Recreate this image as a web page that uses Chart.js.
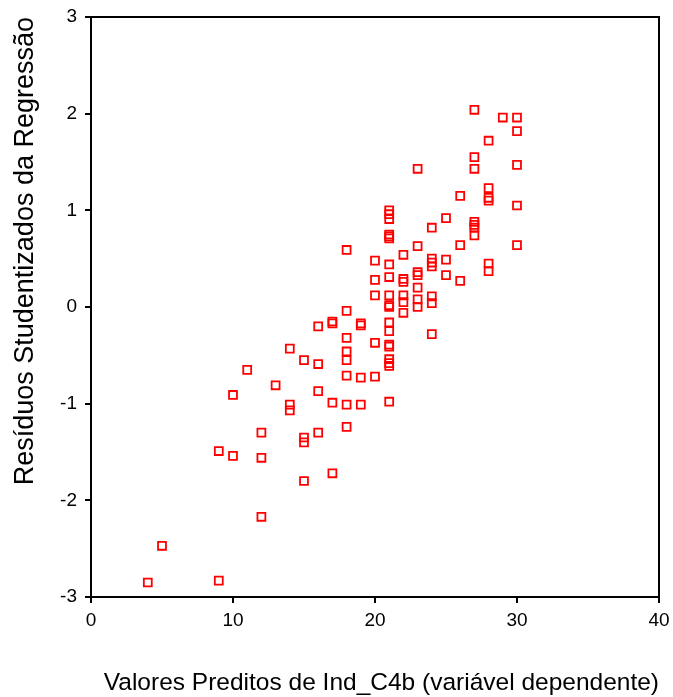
<!DOCTYPE html>
<html>
<head>
<meta charset="utf-8">
<script src="https://cdn.jsdelivr.net/npm/chart.js@4/dist/chart.umd.min.js"></script>
<style>
  body { margin: 0; background: #fff; }
  #wrap { width: 673px; height: 697px; }
</style>
</head>
<body>
<div id="wrap"><canvas id="chart" width="673" height="697"></canvas></div>
<script>
"use strict";

// predicted value of Ind_C4b and the studentized residual, one pair per case
const predicted = [
  4,
  5,
  9, 9,
  10, 10,
  11,
  12, 12, 12,
  13,
  14, 14, 14,
  15, 15, 15, 15,
  16, 16, 16, 16,
  17, 17, 17, 17,
  18, 18, 18, 18, 18, 18, 18, 18,
  19, 19, 19, 19,
  20, 20, 20, 20, 20,
  21, 21, 21, 21, 21, 21, 21, 21, 21, 21, 21, 21, 21, 21, 21, 21, 21, 21, 21,
  22, 22, 22, 22, 22, 22,
  23, 23, 23, 23, 23, 23, 23,
  24, 24, 24, 24, 24, 24, 24,
  25, 25, 25,
  26, 26, 26,
  27, 27, 27, 27, 27, 27, 27,
  28, 28, 28, 28, 28, 28,
  29,
  30, 30, 30, 30, 30
];

const residuals = [
  -2.85,
  -2.47,
  -1.49, -2.83,
  -0.91, -1.54,
  -0.65,
  -1.30, -1.56, -2.17,
  -0.81,
  -0.43, -1.01, -1.07,
  -0.55, -1.35, -1.40, -1.80,
  -0.20, -0.59, -0.87, -1.30,
  -0.15, -0.17, -0.99, -1.72,
  0.59, -0.04, -0.32, -0.46, -0.55, -0.71, -1.01, -1.24,
  -0.17, -0.19, -0.73, -1.01,
  0.48, 0.28, 0.12, -0.37, -0.72,
  1.00, 0.96, 0.91, 0.75, 0.73, 0.71, 0.44, 0.31, 0.12, 0.02, 0.00, -0.16, -0.25, -0.39, -0.41, -0.54, -0.58, -0.61, -0.98,
  0.54, 0.29, 0.26, 0.12, 0.05, -0.06,
  1.43, 0.63, 0.36, 0.33, 0.20, 0.08, 0.00,
  0.82, 0.50, 0.46, 0.42, 0.11, 0.04, -0.28,
  0.92, 0.49, 0.33,
  1.15, 0.64, 0.27,
  2.04, 1.55, 1.43, 0.88, 0.85, 0.82, 0.74,
  1.72, 1.23, 1.13, 1.10, 0.45, 0.37,
  1.96,
  1.96, 1.82, 1.47, 1.05, 0.64
];

const xTicks = [0, 10, 20, 30, 40];
const yTicks = [-3, -2, -1, 0, 1, 2, 3];

const xTitle = "Valores Preditos de Ind_C4b (variável dependente)";
const yTitle = "Resíduos Studentizados da Regressão";

const fontFamily = "'Liberation Sans', Arial, sans-serif";

const points = [];
for (let i = 0; i < predicted.length; i++) {
  points.push({ x: predicted[i], y: residuals[i] });
}

// closes the plot box along the top and right
const frame = {
  id: "frame",
  afterDatasetsDraw(chart) {
    const a = chart.chartArea;
    const ctx = chart.ctx;
    ctx.save();
    ctx.strokeStyle = "#000";
    ctx.lineWidth = 2;
    ctx.beginPath();
    ctx.moveTo(a.left, a.top);
    ctx.lineTo(a.right, a.top);
    ctx.lineTo(a.right, a.bottom);
    ctx.stroke();
    ctx.restore();
  }
};

const config = {
  type: "scatter",
  data: {
    datasets: [{
      data: points,
      pointStyle: "rect",
      pointRadius: 5.6,
      pointHoverRadius: 5.6,
      borderWidth: 1.8,
      borderColor: "#ff0000",
      backgroundColor: "rgba(255,255,255,0)"
    }]
  },
  options: {
    responsive: false,
    animation: false,
    events: [],
    layout: { padding: { top: 17, right: 14, left: 0, bottom: 0 } },
    plugins: {
      legend: { display: false },
      tooltip: { enabled: false }
    },
    scales: {
      x: {
        type: "linear",
        min: xTicks[0],
        max: xTicks[xTicks.length - 1],
        afterBuildTicks(scale) { scale.ticks = xTicks.map(v => ({ value: v })); },
        afterFit(scale) {
          scale.height = 100;
          scale.paddingLeft = 0;
          scale.paddingRight = 0;
        },
        border: { display: true, color: "#000", width: 2 },
        grid: { drawOnChartArea: false, drawTicks: true, tickLength: 6, color: "#000", lineWidth: 2 },
        ticks: { color: "#000", padding: 6, maxRotation: 0, font: { family: fontFamily, size: 19 } },
        title: {
          display: true,
          text: xTitle,
          align: "end",
          color: "#000",
          font: { family: fontFamily, size: 24.5, lineHeight: 1 },
          padding: { top: 0, bottom: 2 }
        }
      },
      y: {
        type: "linear",
        min: yTicks[0],
        max: yTicks[yTicks.length - 1],
        afterBuildTicks(scale) { scale.ticks = yTicks.map(v => ({ value: v })); },
        afterFit(scale) {
          scale.width = 91;
          scale.paddingTop = 0;
          scale.paddingBottom = 0;
        },
        border: { display: true, color: "#000", width: 2 },
        grid: { drawOnChartArea: false, drawTicks: true, tickLength: 6, color: "#000", lineWidth: 2 },
        ticks: { color: "#000", padding: 8, font: { family: fontFamily, size: 19 } },
        title: {
          display: true,
          text: yTitle,
          align: "end",
          color: "#000",
          font: { family: fontFamily, size: 27, lineHeight: 1 },
          padding: { top: 12, bottom: 0 }
        }
      }
    }
  },
  plugins: [frame]
};

const residualChart = new Chart(document.getElementById("chart"), config);
</script>
</body>
</html>
